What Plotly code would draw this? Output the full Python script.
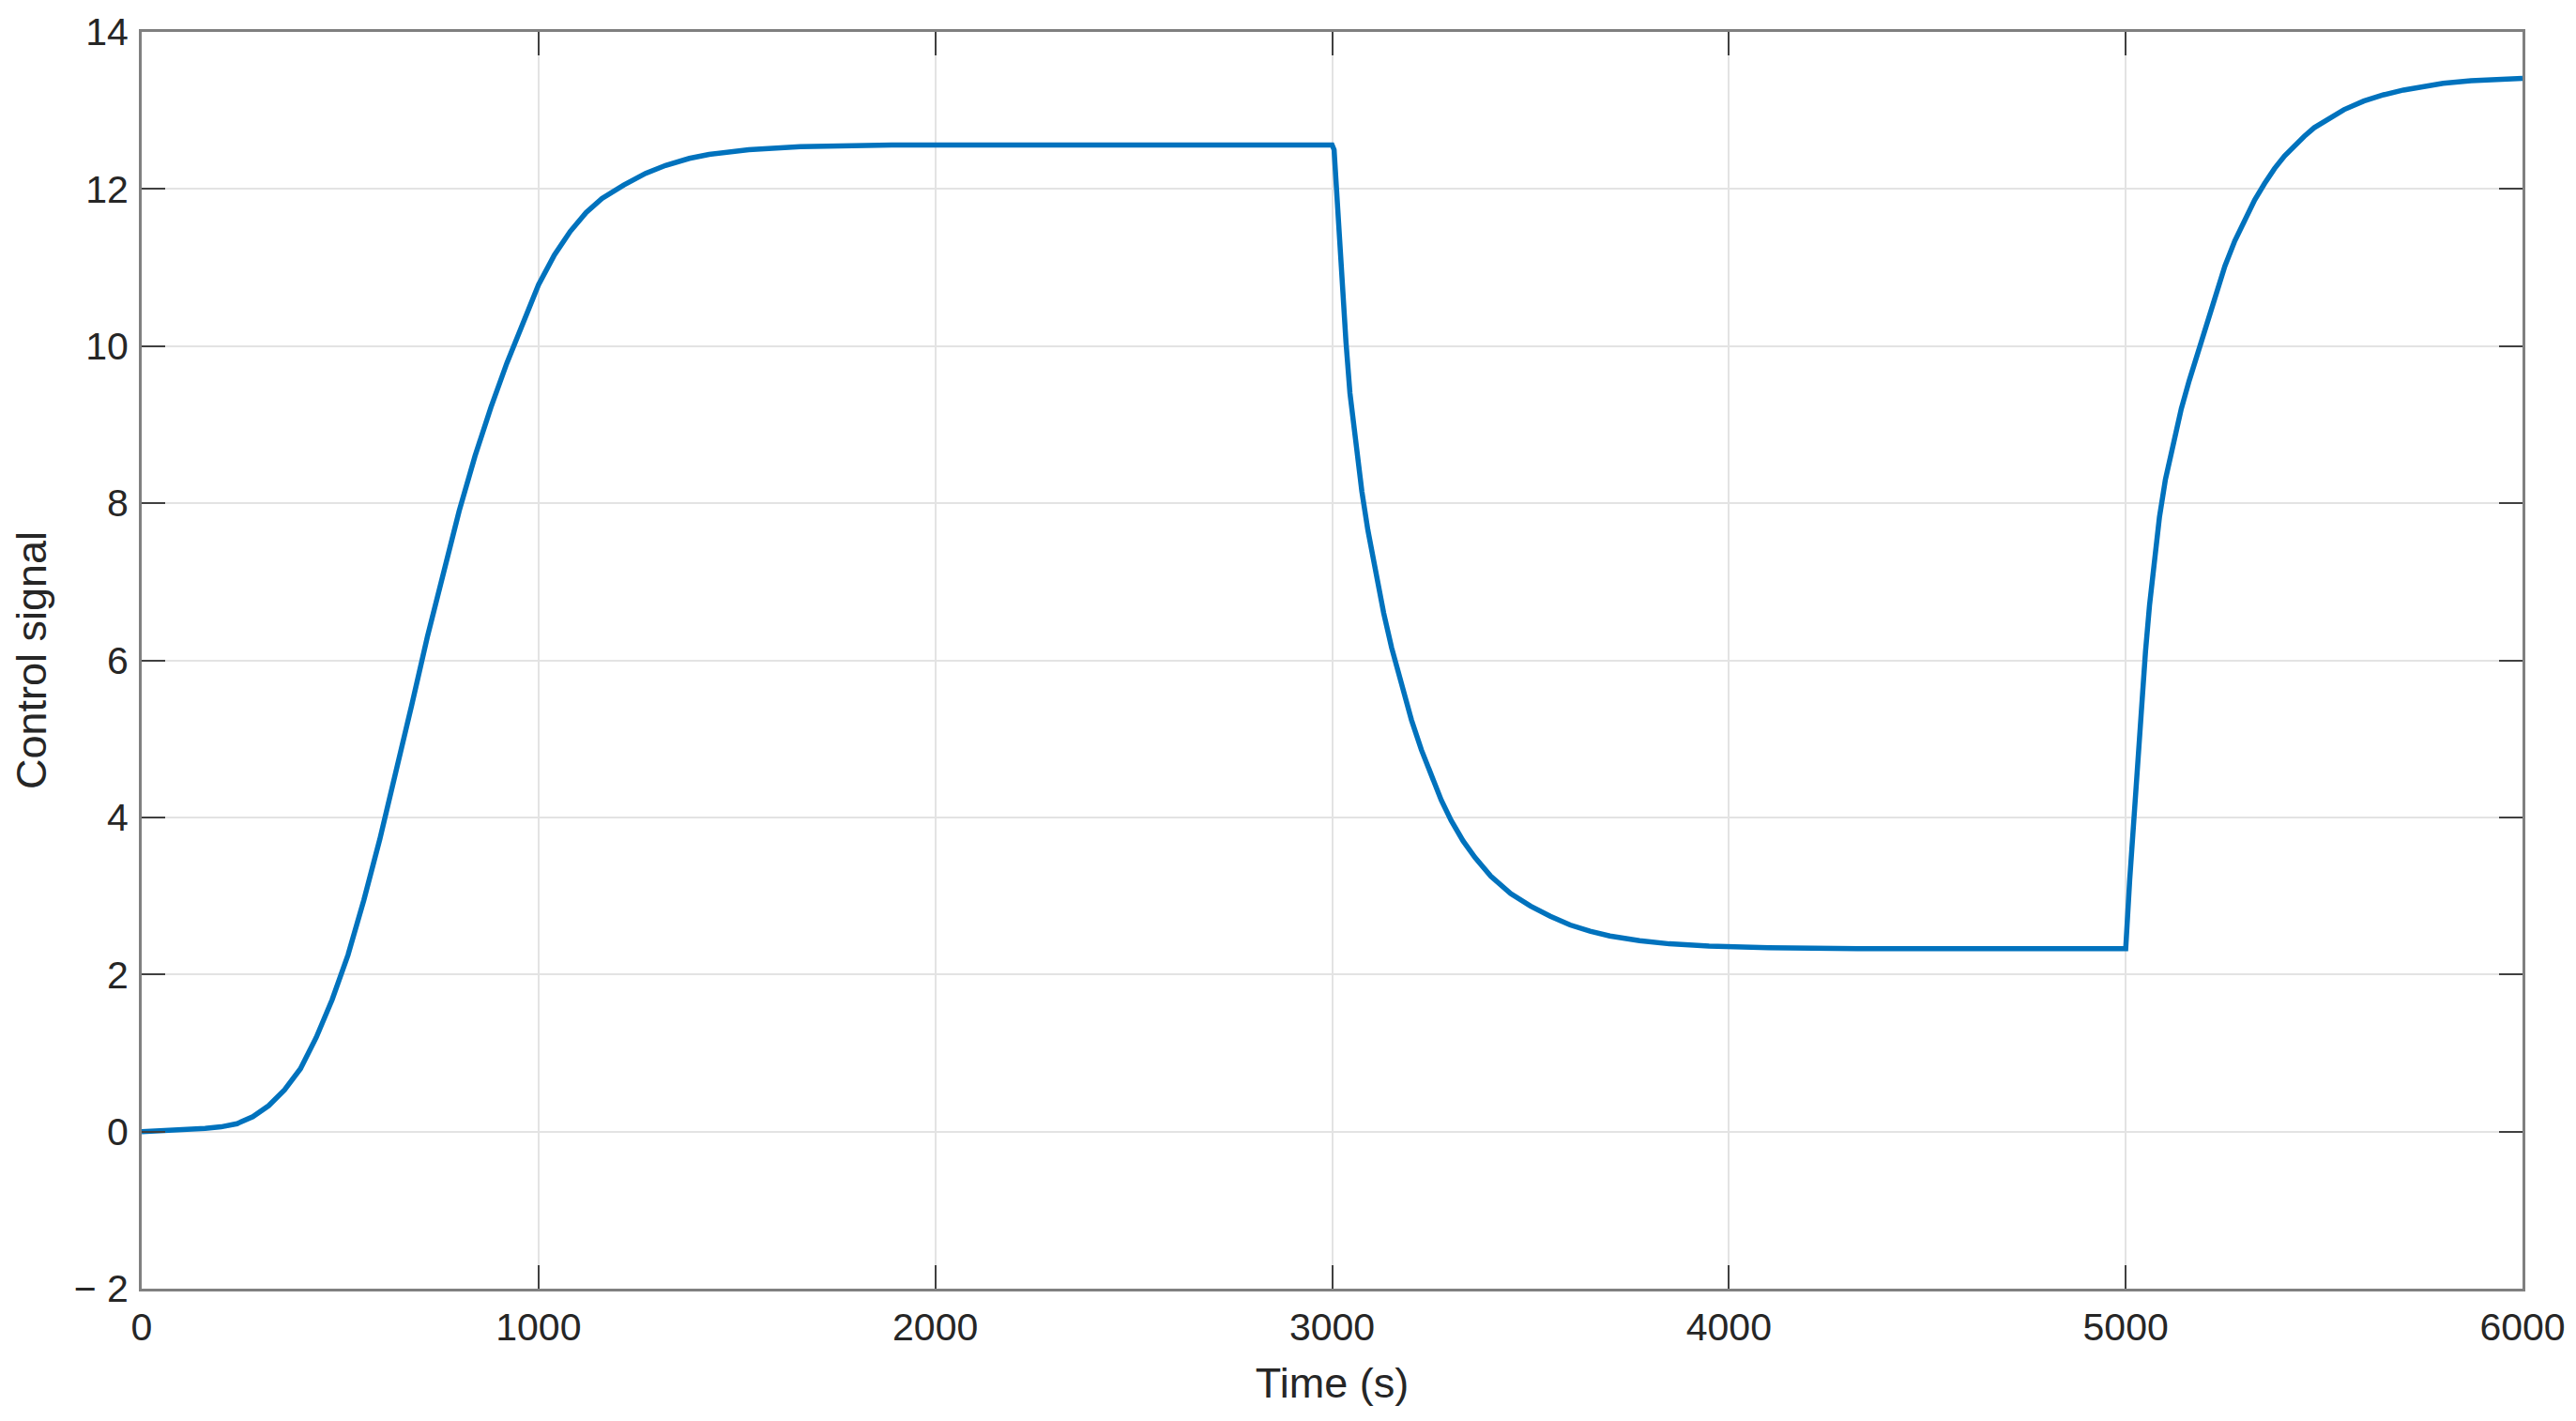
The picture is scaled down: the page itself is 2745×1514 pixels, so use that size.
import plotly.graph_objects as go

# Time samples (s)
time_s = [0, 100, 160, 200, 240, 280, 320, 360, 400, 440, 480, 520, 560, 600, 640, 680,
          720, 760, 800, 840, 880, 920, 960, 1000, 1040, 1080, 1120, 1160, 1215, 1270,
          1320, 1380, 1430, 1530, 1660, 1890, 2400,
          3000, 3005, 3015, 3025, 3035, 3045, 3060, 3075, 3090, 3110, 3130, 3150, 3175,
          3200, 3225, 3250, 3275, 3300, 3330, 3360, 3400, 3450, 3500, 3550, 3600, 3650,
          3700, 3775, 3850, 3950, 4100, 4325, 4700,
          5000, 5010, 5020, 5030, 5040, 5050, 5060, 5070, 5085, 5100, 5120, 5140, 5160,
          5180, 5200, 5225, 5250, 5275, 5300, 5325, 5350, 5375, 5400, 5425, 5450, 5475,
          5510, 5550, 5600, 5650, 5700, 5750, 5800, 5870, 5940, 6000]

# Control signal values
control_signal = [0.0, 0.02, 0.04, 0.06, 0.1, 0.19, 0.33, 0.53, 0.8, 1.2, 1.68, 2.25, 2.95,
                  3.72, 4.55, 5.42, 6.3, 7.12, 7.9, 8.6, 9.22, 9.78, 10.3, 10.78, 11.16,
                  11.46, 11.7, 11.88, 12.05, 12.2, 12.3, 12.39, 12.44, 12.5, 12.54, 12.56,
                  12.56,
                  12.56, 12.5, 11.65, 10.85, 10.05, 9.4, 8.7, 8.15, 7.66, 7.1, 6.6, 6.16,
                  5.67, 5.24, 4.86, 4.52, 4.22, 3.96, 3.7, 3.49, 3.25, 3.03, 2.87, 2.74,
                  2.63, 2.55, 2.49, 2.43, 2.39, 2.36, 2.34, 2.33, 2.33,
                  2.33, 3.2, 3.95, 4.7, 5.45, 6.12, 6.7, 7.2, 7.82, 8.3, 8.78, 9.2, 9.56,
                  9.88, 10.2, 10.64, 11.02, 11.34, 11.62, 11.86, 12.07, 12.26, 12.42,
                  12.55, 12.67, 12.78, 12.89, 13.01, 13.12, 13.2, 13.26, 13.31, 13.345,
                  13.38, 13.4, 13.41]

x_ticks = [0, 1000, 2000, 3000, 4000, 5000, 6000]
y_ticks = [-2, 0, 2, 4, 6, 8, 10, 12, 14]
y_tick_text = ["\u2212 2", "0", "2", "4", "6", "8", "10", "12", "14"]

fig = go.Figure()
fig.add_trace(go.Scatter(
    x=time_s, y=control_signal, mode="lines",
    line=dict(color="#0072BD", width=5.5),
    showlegend=False,
))

font_family = "Liberation Sans, Arial, sans-serif"
tick_font = dict(family=font_family, size=41, color="#262626")
title_font = dict(family=font_family, size=45, color="#262626")

axis_common = dict(
    showline=True, linecolor="#808080", linewidth=3, mirror="ticks",
    ticks="inside", ticklen=25, tickwidth=2, tickcolor="#404040",
    showgrid=True, gridcolor="#e3e3e3", gridwidth=2,
    zeroline=False, tickfont=tick_font, automargin=False,
)

fig.update_xaxes(range=[0, 6000], tickvals=x_ticks, ticktext=[str(v) for v in x_ticks],
                 title=dict(text="Time (s)", font=title_font, standoff=22),
                 ticklabelstandoff=3, **axis_common)
fig.update_yaxes(range=[-2, 14], tickvals=y_ticks, ticktext=y_tick_text,
                 title=dict(text="Control signal", font=title_font, standoff=20),
                 ticklabelstandoff=3, **axis_common)

# page body has an 8px margin: shift margins to compensate
fig.update_layout(
    width=2745, height=1514,
    margin=dict(l=143, r=65, t=26, b=149),
    paper_bgcolor="white", plot_bgcolor="white",
    font=title_font,
)

fig.write_html("out.html")
